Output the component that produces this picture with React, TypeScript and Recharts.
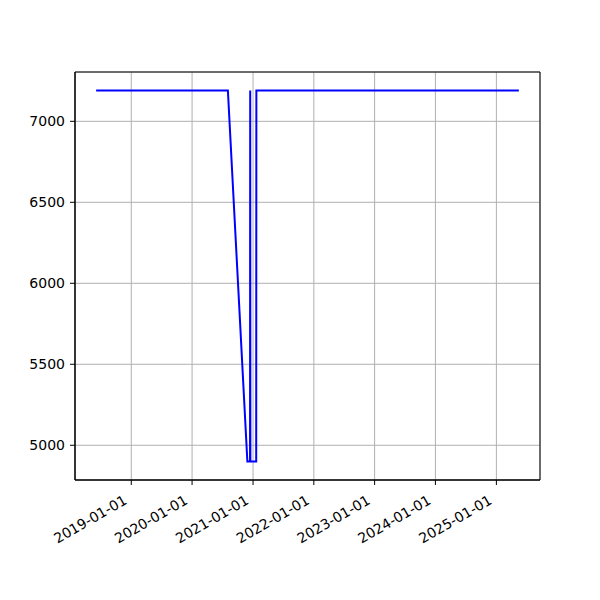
import { LineChart, Line, XAxis, YAxis, CartesianGrid, ReferenceArea } from 'recharts'

const dates = [
  '2018-06-04', '2020-08-03', '2020-11-28', '2020-12-14', '2020-12-15',
  '2020-12-16', '2021-01-20', '2021-01-21', '2025-05-16',
]
const values = [7190, 7190, 4900, 4900, 7190, 4900, 4900, 7190, 7190]
const yTicks = [5000, 5500, 6000, 6500, 7000]
const xTickLabels = [
  '2019-01-01', '2020-01-01', '2021-01-01', '2022-01-01',
  '2023-01-01', '2024-01-01', '2025-01-01',
]

const toTs = (s: string) => Date.parse(s + 'T00:00:00Z')

const data = dates.map((d, i) => ({ t: toTs(d), v: values[i] }))
const xTicks = xTickLabels.map(toTs)

const pad = (lo: number, hi: number): [number, number] => {
  const m = (hi - lo) * 0.05
  return [lo - m, hi + m]
}
const xDomain = pad(Math.min(...data.map(d => d.t)), Math.max(...data.map(d => d.t)))
const yDomain = pad(Math.min(...values), Math.max(...values))

const fmtDate = (t: number) => new Date(t).toISOString().slice(0, 10)

const FONT = "'DejaVu Sans'"

function DateTick(props: any) {
  const { x, y, payload } = props
  return (
    <g transform={`translate(${x},${y})`}>
      <text
        transform="rotate(-30)"
        textAnchor="end"
        x={0}
        y={0}
        dy={14}
        dx={-12}
        fill="#000"
        fontSize={14}
        style={{ fontFamily: FONT }}
      >
        {fmtDate(payload.value)}
      </text>
    </g>
  )
}

export default function App() {
  return (
    <div style={{ position: 'absolute', left: 0, top: 0, width: 600, height: 600, background: '#fff', fontFamily: FONT }}>
      <LineChart width={600} height={600} data={data} margin={{ top: 72, right: 60, bottom: 0, left: 0 }}>
        <CartesianGrid stroke="#b0b0b0" strokeWidth={1} />
        <XAxis
          dataKey="t"
          type="number"
          scale="time"
          domain={xDomain}
          ticks={xTicks}
          interval={0}
          allowDataOverflow
          height={120}
          tick={<DateTick />}
          tickSize={5}
          tickMargin={0}
          stroke="#000"
          tickLine={{ stroke: '#000' }}
          axisLine={{ stroke: '#000' }}
        />
        <YAxis
          dataKey="v"
          type="number"
          domain={yDomain}
          ticks={yTicks}
          interval={0}
          allowDataOverflow
          width={75}
          tickSize={5}
          tickMargin={5}
          tick={{ fill: '#000', fontSize: 14, style: { fontFamily: FONT } }}
          tickLine={{ stroke: '#000' }}
          axisLine={{ stroke: '#000' }}
        />
        <ReferenceArea
          x1={xDomain[0]}
          x2={xDomain[1]}
          y1={yDomain[0]}
          y2={yDomain[1]}
          fill="none"
          fillOpacity={0}
          stroke="#000"
          strokeWidth={1}
        />
        <Line
          dataKey="v"
          type="linear"
          stroke="#0000ff"
          strokeWidth={2}
          dot={false}
          isAnimationActive={false}
        />
      </LineChart>
    </div>
  )
}
